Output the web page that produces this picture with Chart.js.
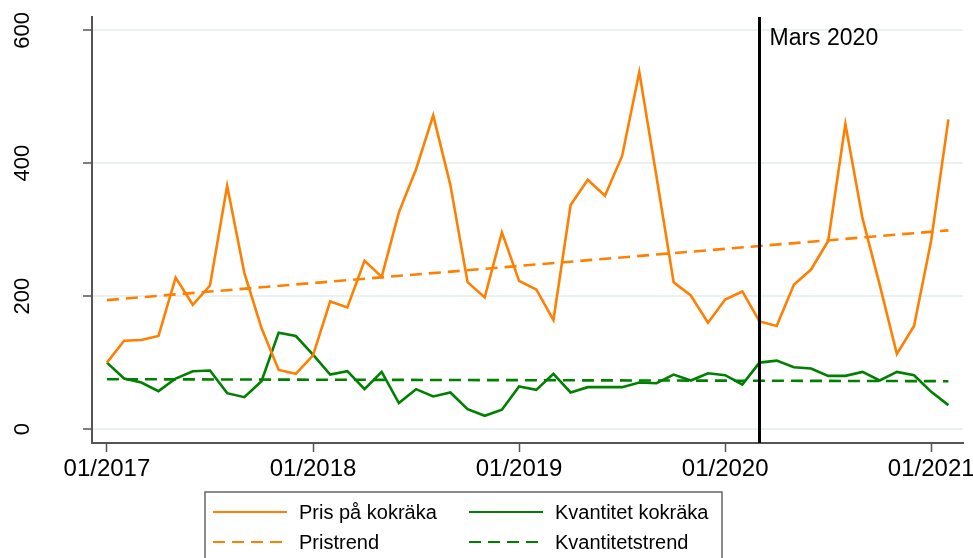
<!DOCTYPE html>
<html>
<head>
<meta charset="utf-8">
<script src="https://cdn.jsdelivr.net/npm/chart.js@4.4.1/dist/chart.umd.min.js"></script>
<style>
  body { margin: 0; background: #fff; }
  canvas { display: block; }
</style>
</head>
<body>
<canvas id="kokrakaChart" width="973" height="558"></canvas>
<script>
// månadsindex 0 = 01/2017 ... 49 = 02/2021
const tickMonths = [0, 12, 24, 36, 48];
const tickLabels = ['01/2017', '01/2018', '01/2019', '01/2020', '01/2021'];
const yTicks = [0, 200, 400, 600];

const pris = [100,133,134,140,228,187,216,366,235,152,89,83,111,192,183,253,229,326,391,472,
              367,221,198,296,223,210,164,337,375,351,411,537,380,221,201,160,195,207,162,155,
              217,240,283,459,317,217,113,155,284,466];
const kvantitet = [100,76,70,57,76,87,88,54,48,72,145,140,112,82,87,60,86,39,60,49,
                   55,30,20,29,64,59,83,55,63,63,63,70,69,82,73,84,81,67,100,103,
                   93,91,80,80,86,73,86,81,56,36];
// trendlinjer: start- och slutvärde
const trendMonths = [0, 49];
const pristrend = [194, 299];
const kvantitetstrend = [75, 72];

const markerMonth = 38;
const markerLabel = 'Mars 2020';

const ORANGE = 'rgb(255,128,0)';
const GREEN = 'rgb(0,128,0)';
const FONT = "'Liberation Sans', Arial, sans-serif";

const toPoints = (vals, xs) => vals.map((v, i) => ({ x: xs ? xs[i] : i, y: v }));

const markerPlugin = {
    id: 'marker',
    afterDatasetsDraw(chart) {
        const ctx = chart.ctx;
        const x = chart.scales.x.getPixelForValue(markerMonth);
        const area = chart.chartArea;
        ctx.save();
        ctx.strokeStyle = '#000';
        ctx.lineWidth = 3;
        ctx.beginPath();
        ctx.moveTo(x, area.top);
        ctx.lineTo(x, area.bottom);
        ctx.stroke();
        ctx.fillStyle = '#000';
        ctx.font = '23px ' + FONT;
        ctx.textBaseline = 'alphabetic';
        ctx.textAlign = 'left';
        ctx.fillText(markerLabel, x + 10, 45);
        ctx.restore();
    }
};

// legend i ruta, två kolumner
const boxLegend = {
    id: 'boxLegend',
    afterDraw(chart) {
        const ctx = chart.ctx;
        ctx.save();
        ctx.strokeStyle = '#666';
        ctx.lineWidth = 1.5;
        ctx.strokeRect(205, 492, 517, 100);
        ctx.font = '20px ' + FONT;
        ctx.textBaseline = 'middle';
        ctx.fillStyle = '#000';
        chart.data.datasets.forEach((ds, i) => {
            const col = i % 2, row = Math.floor(i / 2);
            const lx = col === 0 ? 213 : 469;
            const ly = row === 0 ? 512 : 542;
            ctx.strokeStyle = ds.borderColor;
            ctx.lineWidth = 2;
            ctx.setLineDash(ds.borderDash || []);
            ctx.beginPath();
            ctx.moveTo(lx, ly);
            ctx.lineTo(lx + 74, ly);
            ctx.stroke();
            ctx.setLineDash([]);
            ctx.fillText(ds.label, lx + 86, ly + 1);
        });
        ctx.restore();
    }
};

new Chart(document.getElementById('kokrakaChart').getContext('2d'), {
    type: 'line',
    data: {
        datasets: [
            {
                label: 'Pris på kokräka',
                data: toPoints(pris),
                borderColor: ORANGE,
                borderWidth: 2.6,
                pointRadius: 0,
                tension: 0
            },
            {
                label: 'Kvantitet kokräka',
                data: toPoints(kvantitet),
                borderColor: GREEN,
                borderWidth: 2.6,
                pointRadius: 0,
                tension: 0
            },
            {
                label: 'Pristrend',
                data: toPoints(pristrend, trendMonths),
                borderColor: ORANGE,
                borderWidth: 2.6,
                borderDash: [12, 7],
                pointRadius: 0
            },
            {
                label: 'Kvantitetstrend',
                data: toPoints(kvantitetstrend, trendMonths),
                borderColor: GREEN,
                borderWidth: 2.6,
                borderDash: [12, 7],
                pointRadius: 0
            }
        ]
    },
    options: {
        responsive: false,
        animation: false,
        devicePixelRatio: 1,
        layout: { padding: { left: 0, right: 10, top: 17, bottom: 0 } },
        plugins: {
            legend: { display: false },
            tooltip: { enabled: false }
        },
        scales: {
            x: {
                type: 'linear',
                min: -0.87,
                max: 49.85,
                afterBuildTicks: s => { s.ticks = tickMonths.map(v => ({ value: v })); },
                afterFit: s => { s.height = 115; s.paddingLeft = 0; s.paddingRight = 0; },
                ticks: {
                    callback: v => tickLabels[tickMonths.indexOf(v)],
                    color: '#000',
                    font: { family: FONT, size: 24 },
                    padding: 3,
                    maxRotation: 0
                },
                grid: { drawOnChartArea: false, tickLength: 9, tickColor: '#555', tickWidth: 1.5 },
                border: { color: '#555', width: 2 }
            },
            y: {
                min: -21,
                max: 620,
                afterBuildTicks: s => { s.ticks = yTicks.map(v => ({ value: v })); },
                afterFit: s => { s.width = 92; s.paddingTop = 0; s.paddingBottom = 0; },
                ticks: {
                    color: '#000',
                    font: { family: FONT, size: 22 },
                    minRotation: 90,
                    maxRotation: 90,
                    crossAlign: 'center',
                    padding: 42
                },
                grid: { color: '#e9f1f3', lineWidth: 2, tickLength: 9, tickColor: '#555', tickWidth: 1.5 },
                border: { color: '#555', width: 2 }
            }
        }
    },
    plugins: [markerPlugin, boxLegend]
});
</script>
</body>
</html>
